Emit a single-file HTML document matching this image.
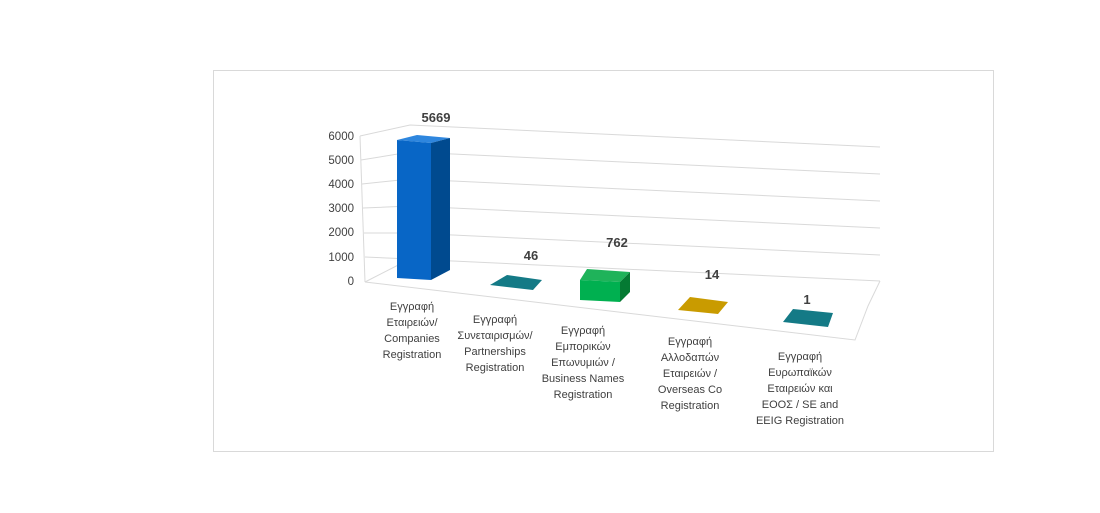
<!DOCTYPE html>
<html><head><meta charset="utf-8"><style>
html,body{margin:0;padding:0;background:#fff;}
svg{display:block;font-family:"Liberation Sans","DejaVu Sans",sans-serif;}
</style></head><body>
<svg width="1100" height="513" viewBox="0 0 1100 513">
<rect x="213.5" y="70.5" width="780" height="381" fill="#fff" stroke="#d9d9d9"/>
<g stroke="#d9d9d9" stroke-width="1" fill="none">
<polyline points="360,136 410,125 880,147"/>
<polyline points="361,160 410,152 880,174"/>
<polyline points="362,184 410,179 880,201"/>
<polyline points="363,208 410,206 880,228"/>
<polyline points="364,233 410,233 880,255"/>
<polyline points="365,257 410,259 880,281"/>
<line x1="360" y1="136" x2="365" y2="282"/>
<polyline points="365,282 410,259"/>
<polyline points="365,282 855,340 868,306 880,281"/>
</g>
<!-- blue bar -->
<polygon points="397,140 417,135 450,138 431,143" fill="#2e86de"/>
<polygon points="431,143 450,138 450,270 431,280" fill="#004a8f"/>
<polygon points="397,140 431,143 431,280 397,278" fill="#0866c6"/>
<!-- teal flat -->
<polygon points="490,285 507,275 542,280 533,290" fill="#147a86"/>
<!-- green -->
<polygon points="580,280 587,269 630,272 620,282" fill="#1fb35a"/>
<polygon points="620,282 630,272 630,292 620,302" fill="#057a33"/>
<polygon points="580,280 620,282 620,302 580,300" fill="#00b050"/>
<!-- gold -->
<polygon points="678,310 690,297 728,302 718,314" fill="#c99b00"/>
<!-- teal2 -->
<polygon points="783,322 793,309 833,313 828,327" fill="#147a86"/>
<g font-size="13" font-weight="bold" fill="#404040" text-anchor="middle">
<text x="436" y="122">5669</text>
<text x="531" y="260">46</text>
<text x="617" y="247">762</text>
<text x="712" y="279">14</text>
<text x="807" y="304">1</text>
</g>
<g font-size="11.5" fill="#404040" text-anchor="end">
<text x="354" y="140">6000</text>
<text x="354" y="164">5000</text>
<text x="354" y="188">4000</text>
<text x="354" y="212">3000</text>
<text x="354" y="236">2000</text>
<text x="354" y="261">1000</text>
<text x="354" y="285">0</text>
</g>
<g font-size="11" fill="#404040" text-anchor="middle">
<text x="412" y="310">Εγγραφή</text><text x="412" y="326">Εταιρειών/</text><text x="412" y="342">Companies</text><text x="412" y="358">Registration</text>
<text x="495" y="323">Εγγραφή</text><text x="495" y="339">Συνεταιρισμών/</text><text x="495" y="355">Partnerships</text><text x="495" y="371">Registration</text>
<text x="583" y="334">Εγγραφή</text><text x="583" y="350">Εμπορικών</text><text x="583" y="366">Επωνυμιών /</text><text x="583" y="382">Business Names</text><text x="583" y="398">Registration</text>
<text x="690" y="345">Εγγραφή</text><text x="690" y="361">Αλλοδαπών</text><text x="690" y="377">Εταιρειών /</text><text x="690" y="393">Overseas Co</text><text x="690" y="409">Registration</text>
<text x="800" y="360">Εγγραφή</text><text x="800" y="376">Ευρωπαϊκών</text><text x="800" y="392">Εταιρειών και</text><text x="800" y="408">ΕΟΟΣ / SE and</text><text x="800" y="424">EEIG Registration</text>
</g>
</svg>
</body></html>
